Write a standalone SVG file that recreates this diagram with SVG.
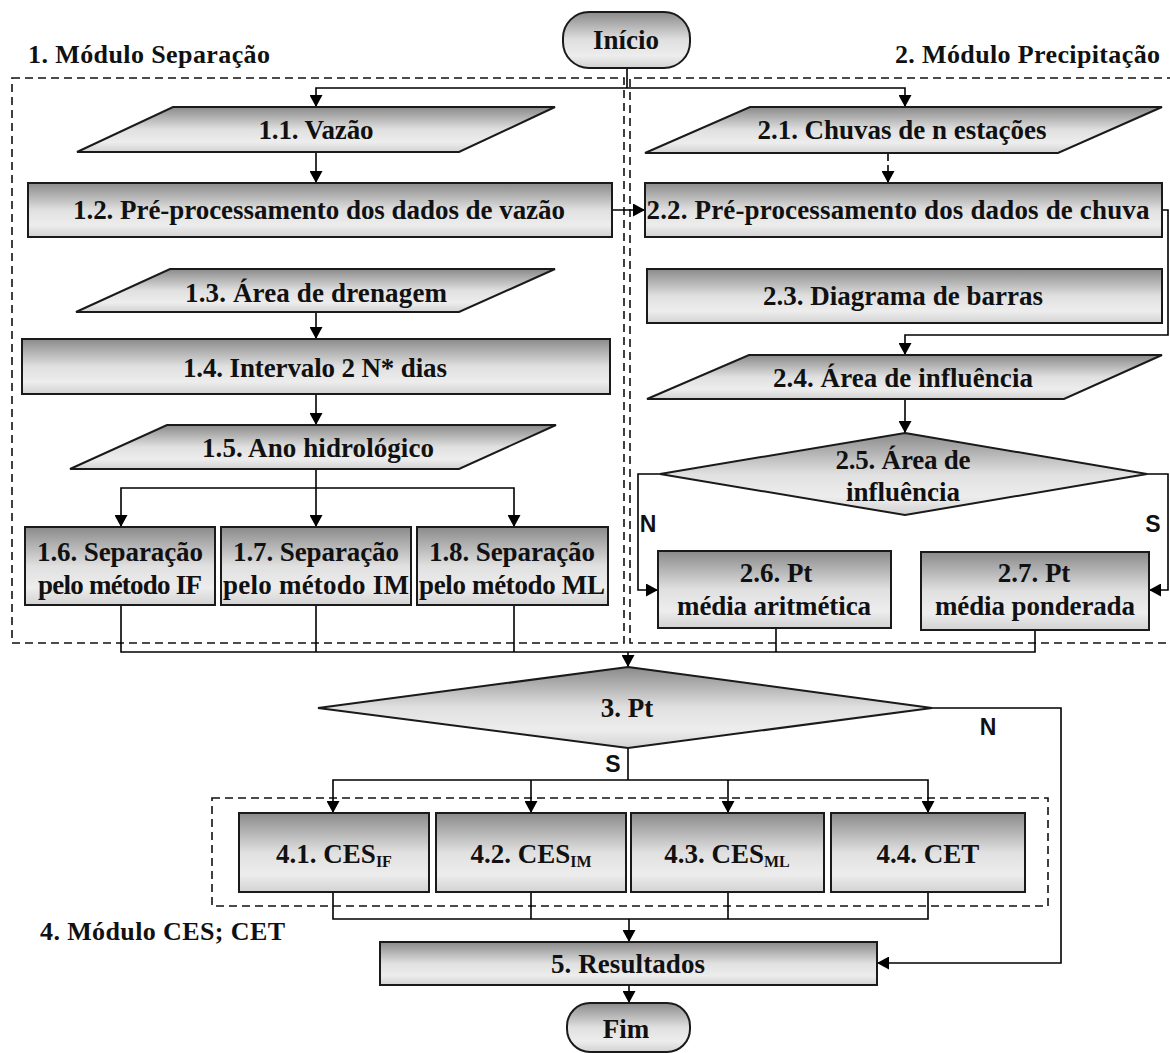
<svg xmlns="http://www.w3.org/2000/svg" width="1170" height="1053" viewBox="0 0 1170 1053">
  <style>
    .t { font-family: "Liberation Serif", "Times New Roman", serif; font-weight: bold; font-size: 27px; fill: #111; text-anchor: middle; }
    .h { font-family: "Liberation Serif", "Times New Roman", serif; font-weight: bold; font-size: 26px; fill: #111; }
    .yn { font-family: "Liberation Sans", Arial, sans-serif; font-weight: bold; font-size: 23px; fill: #111; text-anchor: middle; }
    .shape { fill: url(#shade); stroke: #1a1a1a; stroke-width: 2; }
    .frame { fill: none; stroke: #111; stroke-width: 1.6; stroke-dasharray: 8 5; }
    .wire { fill: none; stroke: #000; stroke-width: 1.6; }
    .arrow { marker-end: url(#head); }
  </style>
  <defs>
    <linearGradient id="shade" x1="0" y1="0" x2="0" y2="1">
      <stop offset="0" stop-color="#8a8a8a"/>
      <stop offset="0.5" stop-color="#e0e0e0"/>
      <stop offset="0.78" stop-color="#ededed"/>
      <stop offset="1" stop-color="#d2d2d2"/>
    </linearGradient>
    <marker id="head" markerUnits="userSpaceOnUse" markerWidth="13" markerHeight="13" refX="12" refY="6.5" orient="auto">
      <path d="M0,0 L12,6.5 L0,13 z" fill="#000"/>
    </marker>
  </defs>

  <rect width="1170" height="1053" fill="#fff"/>

  <!-- module frames and their titles -->
  <g id="modules">
    <rect class="frame" x="12" y="78" width="612" height="565"/>
    <polyline class="frame" points="1175,78 630,78 630,643 1175,643"/>
    <rect class="frame" x="212" y="798" width="836" height="108"/>
    <text class="h" x="28" y="63" textLength="242">1. Módulo Separação</text>
    <text class="h" x="1160" y="63" text-anchor="end" textLength="265">2. Módulo Precipitação</text>
    <text class="h" x="40" y="940" textLength="245">4. Módulo CES; CET</text>
  </g>

  <!-- connectors -->
  <g id="connectors">
    <polyline class="wire" points="627,68 627,88"/>
    <polyline class="wire arrow" points="627,88 316,88 316,107"/>
    <polyline class="wire arrow" points="627,88 905,88 905,107"/>
    <line class="wire arrow" x1="316" y1="152" x2="316" y2="183"/>
    <line class="wire arrow" x1="612" y1="210" x2="645" y2="210"/>
    <line class="wire arrow" x1="888" y1="153" x2="888" y2="183" stroke-dasharray="8 4"/>
    <polyline class="wire arrow" points="1162,210 1168,210 1168,335 905,335 905,355"/>
    <line class="wire arrow" x1="316" y1="312" x2="316" y2="339"/>
    <line class="wire arrow" x1="316" y1="394" x2="316" y2="425"/>
    <polyline class="wire" points="316,469 316,488"/>
    <polyline class="wire arrow" points="316,488 121,488 121,527"/>
    <line class="wire arrow" x1="316" y1="488" x2="316" y2="527"/>
    <polyline class="wire arrow" points="316,488 514,488 514,527"/>
    <line class="wire arrow" x1="905" y1="399" x2="905" y2="433"/>
    <polyline class="wire arrow" points="660,474 638,474 638,590 658,590"/>
    <polyline class="wire arrow" points="1147,474 1168,474 1168,590 1149,590"/>
    <polyline class="wire" points="121,605 121,652 1035,652 1035,630"/>
    <line class="wire" x1="316" y1="605" x2="316" y2="652"/>
    <line class="wire" x1="514" y1="605" x2="514" y2="652"/>
    <line class="wire" x1="776" y1="628" x2="776" y2="652"/>
    <line class="wire arrow" x1="628" y1="652" x2="628" y2="667"/>
    <polyline class="wire arrow" points="932,708 1061,708 1061,963 877,963"/>
    <polyline class="wire" points="628,748 628,780"/>
    <polyline class="wire arrow" points="628,780 333,780 333,813"/>
    <line class="wire arrow" x1="531" y1="780" x2="531" y2="813"/>
    <line class="wire arrow" x1="728" y1="780" x2="728" y2="813"/>
    <polyline class="wire arrow" points="628,780 928,780 928,813"/>
    <polyline class="wire" points="333,892 333,919 928,919 928,892"/>
    <line class="wire" x1="531" y1="892" x2="531" y2="919"/>
    <line class="wire" x1="728" y1="892" x2="728" y2="919"/>
    <line class="wire arrow" x1="629" y1="919" x2="629" y2="942"/>
    <line class="wire arrow" x1="629" y1="985" x2="629" y2="1003"/>
    <text class="yn" x="648" y="532">N</text>
    <text class="yn" x="1153" y="532">S</text>
    <text class="yn" x="613" y="772">S</text>
    <text class="yn" x="988" y="735">N</text>
  </g>

  <g id="inicio">
    <rect class="shape" x="563" y="12" width="127" height="56" rx="26"/>
    <text class="t" x="626" y="49">Início</text>
  </g>

  <g id="n1-1">
    <polygon class="shape" points="173,107 555,107 459,152 77,152"/>
    <text class="t" x="316" y="139" textLength="115">1.1. Vazão</text>
  </g>
  <g id="n1-2">
    <rect class="shape" x="28" y="183" width="584" height="54"/>
    <text class="t" x="319" y="219" textLength="492">1.2. Pré-processamento dos dados de vazão</text>
  </g>
  <g id="n1-3">
    <polygon class="shape" points="170,269 555,269 459,312 76,312"/>
    <text class="t" x="316" y="302" textLength="262">1.3. Área de drenagem</text>
  </g>
  <g id="n1-4">
    <rect class="shape" x="22" y="339" width="588" height="55"/>
    <text class="t" x="315" y="377" textLength="264">1.4. Intervalo 2 N* dias</text>
  </g>
  <g id="n1-5">
    <polygon class="shape" points="167,425 556,425 459,469 70,469"/>
    <text class="t" x="318" y="457" textLength="232">1.5. Ano hidrológico</text>
  </g>
  <g id="n1-6">
    <rect class="shape" x="25" y="527" width="190" height="78"/>
    <text class="t" x="120" y="561" textLength="166">1.6. Separação</text>
    <text class="t" x="120" y="594" textLength="164">pelo método IF</text>
  </g>
  <g id="n1-7">
    <rect class="shape" x="221" y="527" width="190" height="78"/>
    <text class="t" x="316" y="561" textLength="166">1.7. Separação</text>
    <text class="t" x="316" y="594" textLength="186">pelo método IM</text>
  </g>
  <g id="n1-8">
    <rect class="shape" x="417" y="527" width="191" height="78"/>
    <text class="t" x="512" y="561" textLength="166">1.8. Separação</text>
    <text class="t" x="512" y="594" textLength="186">pelo método ML</text>
  </g>

  <g id="n2-1">
    <polygon class="shape" points="750,107 1162,107 1058,153 645,153"/>
    <text class="t" x="902" y="139" textLength="289">2.1. Chuvas de n estações</text>
  </g>
  <g id="n2-2">
    <rect class="shape" x="645" y="183" width="517" height="54"/>
    <text class="t" x="898" y="219" textLength="503">2.2. Pré-processamento dos dados de chuva</text>
  </g>
  <g id="n2-3">
    <rect class="shape" x="647" y="269" width="515" height="54"/>
    <text class="t" x="903" y="305" textLength="280">2.3. Diagrama de barras</text>
  </g>
  <g id="n2-4">
    <polygon class="shape" points="749,355 1162,355 1064,399 647,399"/>
    <text class="t" x="903" y="387" textLength="260">2.4. Área de influência</text>
  </g>
  <g id="n2-5">
    <polygon class="shape" points="905,433 1147,474 905,515 660,474"/>
    <text class="t" x="903" y="469" textLength="135">2.5. Área de</text>
    <text class="t" x="903" y="501">influência</text>
  </g>
  <g id="n2-6">
    <rect class="shape" x="658" y="551" width="233" height="77"/>
    <text class="t" x="776" y="582">2.6. Pt</text>
    <text class="t" x="774" y="615" textLength="194">média aritmética</text>
  </g>
  <g id="n2-7">
    <rect class="shape" x="921" y="552" width="228" height="78"/>
    <text class="t" x="1034" y="582">2.7. Pt</text>
    <text class="t" x="1035" y="615" textLength="200">média ponderada</text>
  </g>

  <g id="n3">
    <polygon class="shape" points="628,667 932,708 628,748 318,708"/>
    <text class="t" x="627" y="717">3. Pt</text>
  </g>

  <g id="n4-1">
    <rect class="shape" x="239" y="813" width="190" height="79"/>
    <text class="t" x="334" y="863">4.1. CES<tspan font-size="16" dy="4">IF</tspan></text>
  </g>
  <g id="n4-2">
    <rect class="shape" x="436" y="813" width="190" height="79"/>
    <text class="t" x="531" y="863">4.2. CES<tspan font-size="16" dy="4">IM</tspan></text>
  </g>
  <g id="n4-3">
    <rect class="shape" x="631" y="813" width="193" height="79"/>
    <text class="t" x="727" y="863">4.3. CES<tspan font-size="16" dy="4">ML</tspan></text>
  </g>
  <g id="n4-4">
    <rect class="shape" x="831" y="813" width="194" height="79"/>
    <text class="t" x="928" y="863">4.4. CET</text>
  </g>

  <g id="n5">
    <rect class="shape" x="380" y="942" width="497" height="43"/>
    <text class="t" x="628" y="973" textLength="154">5. Resultados</text>
  </g>
  <g id="fim">
    <rect class="shape" x="567" y="1003" width="123" height="49" rx="23"/>
    <text class="t" x="626" y="1038">Fim</text>
  </g>
</svg>
